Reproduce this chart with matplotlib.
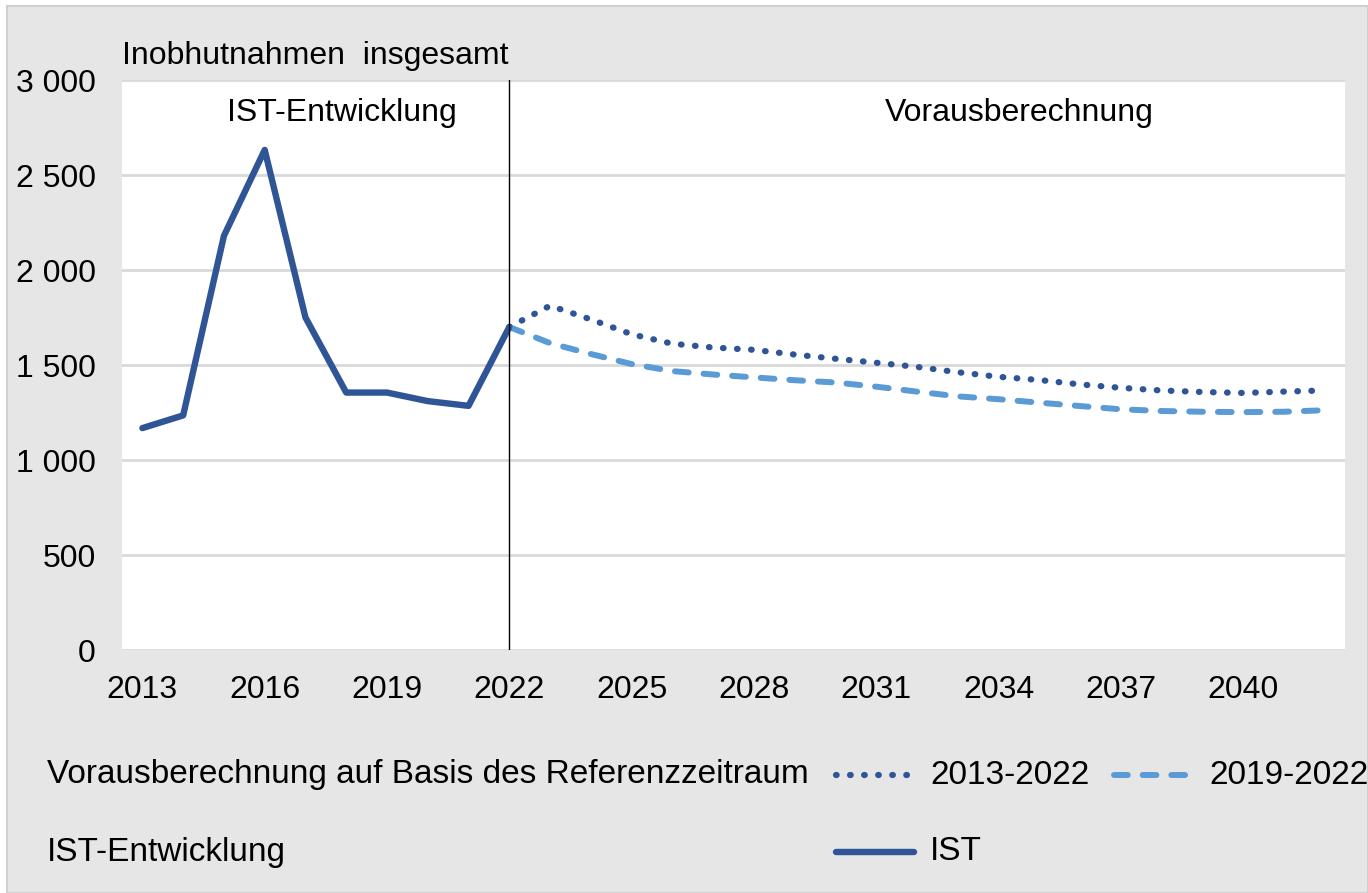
import matplotlib.pyplot as plt
from matplotlib.lines import Line2D
from matplotlib.patches import Rectangle

plt.rcParams['font.family'] = ['Liberation Sans', 'DejaVu Sans']

# Data
years_ist = list(range(2013, 2023))
ist = [1168, 1235, 2180, 2632, 1750, 1355, 1355, 1310, 1285, 1700]

years_fc = list(range(2022, 2043))
fc_2013_2022 = [1700, 1812, 1740, 1662, 1612, 1592, 1580, 1555, 1533, 1512, 1490,
                1462, 1438, 1421, 1398, 1380, 1366, 1358, 1353, 1360, 1366]
fc_2019_2022 = [1700, 1615, 1558, 1505, 1468, 1450, 1435, 1420, 1408, 1386, 1360,
                1335, 1320, 1302, 1284, 1267, 1258, 1254, 1252, 1254, 1262]

xticks = list(range(2013, 2041, 3))
yticks = [0, 500, 1000, 1500, 2000, 2500, 3000]

dark = '#2f5597'
light = '#5b9bd5'
bg = '#e6e6e6'
fs = 23
fs_leg = 24

fig = plt.figure(figsize=(13.68, 8.93), dpi=100, facecolor='white')
# grey panel with thin border (white strip at left/top edge)
fig.add_artist(Rectangle((7 / 1368, 0), 1 - 7 / 1368, 1 - 6 / 893, transform=fig.transFigure,
                         facecolor=bg, edgecolor='#d0d0d0', lw=1.5, zorder=0))

ax = fig.add_axes([0.0892, 0.2721, 0.8940, 0.6383])
ax.set_facecolor('white')

ax.plot(years_ist, ist, color=dark, lw=4.6, solid_capstyle='round', solid_joinstyle='round', zorder=4)
ax.plot(years_fc, fc_2013_2022, color=dark, lw=4.5, linestyle=(0, (0.1, 2.15)),
        dash_capstyle='round', zorder=3)
ax.plot(years_fc, fc_2019_2022, color=light, lw=4.3, linestyle=(0, (2.3, 2.5)),
        dash_capstyle='round', zorder=3)

ax.axvline(2022, color='black', lw=1.0, zorder=5)

ax.set_xlim(2012.5, 2042.5)
ax.set_ylim(0, 3000)
ax.set_xticks(xticks)
ax.set_yticks(yticks)
ax.set_yticklabels([f'{v:,}'.replace(',', ' ') for v in yticks])
ax.tick_params(length=0, labelsize=fs)
ax.tick_params(axis='x', pad=18)
ax.tick_params(axis='y', pad=19)
ax.grid(axis='y', color='#d9d9d9', lw=2)
for s in ax.spines.values():
    s.set_visible(False)
ax.set_axisbelow(True)

ax.text(2017.9, 2826, 'IST-Entwicklung', ha='center', va='center', fontsize=fs)
ax.text(2034.5, 2826, 'Vorausberechnung', ha='center', va='center', fontsize=fs)
fig.text(122 / 1368, 1 - 56 / 893, 'Inobhutnahmen  insgesamt', ha='left', va='center', fontsize=fs)

# legend rows
row1 = 1 - 775 / 893
row2 = 1 - 852 / 893
fig.text(47 / 1368, row1, 'Vorausberechnung auf Basis des Referenzzeitraum', ha='left', va='center', fontsize=fs_leg)
fig.text(47 / 1368, row2, 'IST-Entwicklung', ha='left', va='center', fontsize=fs_leg)
fig.add_artist(Line2D([836 / 1368, 914 / 1368], [row1, row1], color=dark, lw=4.5,
                      linestyle=(0, (0.1, 2.15)), dash_capstyle='round'))
fig.text(930 / 1368, row1, '2013-2022', ha='left', va='center', fontsize=fs_leg)
fig.add_artist(Line2D([1114 / 1368, 1190 / 1368], [row1, row1], color=light, lw=4.3,
                      linestyle=(0, (2.3, 2.5)), dash_capstyle='round'))
fig.text(1209 / 1368, row1, '2019-2022', ha='left', va='center', fontsize=fs_leg)
fig.add_artist(Line2D([836 / 1368, 914 / 1368], [row2, row2], color=dark, lw=4.6,
                      solid_capstyle='round'))
fig.text(930 / 1368, row2, 'IST', ha='left', va='center', fontsize=fs_leg)

fig.savefig('out.png', dpi=100, facecolor='white')
